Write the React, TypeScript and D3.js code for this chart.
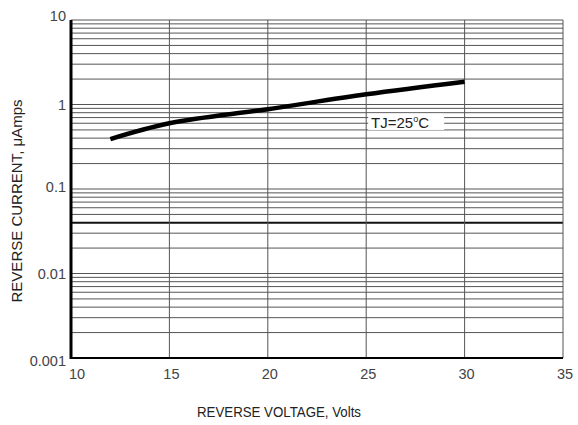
import * as d3 from "d3";

// chart data
const voltage = [12, 15, 20, 25, 30];
const current = [0.39, 0.6, 0.88, 1.32, 1.86];

const xTicks = [10, 15, 20, 25, 30, 35];
const yTicks = [10, 1, 0.1, 0.01, 0.001];
const yTickLabels = ["10", "1", "0.1", "0.01", "0.001"];

const W = 578;
const H = 425;
const margin = { top: 20, right: 15, bottom: 67, left: 71 };
const font = "'Liberation Sans', Arial, sans-serif";

export default function App() {
  const x = d3.scaleLinear().domain([10, 35]).range([margin.left, W - margin.right]);
  const y = d3.scaleLog().domain([0.001, 10]).range([H - margin.bottom, margin.top]);

  // minor log gridlines 1..9 per decade
  const grid: number[] = [];
  [0.001, 0.01, 0.1, 1].forEach((d) => {
    for (let k = 1; k < 10; k++) grid.push(d * k);
  });
  grid.push(10);

  const line = d3
    .line<number>()
    .x((_, i) => x(voltage[i]))
    .y((d) => y(d))
    .curve(d3.curveCatmullRom.alpha(0.5));

  const x0 = x(10);
  const x1 = x(35);
  const y0 = y(0.001);
  const y1 = y(10);

  return (
    <svg
      width={W}
      height={H}
      style={{ position: "absolute", left: 0, top: 0, background: "#fff" }}
      fontFamily={font}
    >
      <rect width={W} height={H} fill="#fff" />
      {/* horizontal grid */}
      {grid.map((g, i) => (
        <line
          key={"h" + i}
          x1={x0}
          x2={x1}
          y1={y(g)}
          y2={y(g)}
          stroke={Math.abs(g - 0.04) < 1e-9 ? "#111" : "#555"}
          strokeWidth={Math.abs(g - 0.04) < 1e-9 ? 2 : 1}
        />
      ))}
      {/* vertical grid */}
      {xTicks.slice(1).map((t) => (
        <line key={"v" + t} x1={x(t)} x2={x(t)} y1={y1} y2={y0} stroke="#555" strokeWidth={1} />
      ))}
      {/* annotation box */}
      <rect x={x(25.1)} y={y(0.78)} width={76} height={y(0.5) - y(0.78)} fill="#fff" />
      <text x={x(25.25)} y={y(0.52)} fontSize={15} fill="#222">
        TJ=25
        <tspan fontSize={9} dy={-6}>o</tspan>
        <tspan dy={6}>C</tspan>
      </text>
      {/* curve */}
      <path d={line(current) || ""} fill="none" stroke="#000" strokeWidth={4.5} />
      {/* axes */}
      <line x1={x0} x2={x0} y1={y1} y2={y0 + 1} stroke="#000" strokeWidth={3} />
      <line x1={x0} x2={x1} y1={y0} y2={y0} stroke="#000" strokeWidth={2} />
      {/* y tick labels */}
      {yTicks.map((t, i) => (
        <text
          key={"yl" + t}
          x={66}
          y={y(t)}
          dy={i === 0 ? -4 : i === yTicks.length - 1 ? 3 : i === 2 ? -2 : 0}
          textAnchor="end"
          dominantBaseline="central"
          fontSize={14.5}
          fill="#444"
        >
          {yTickLabels[i]}
        </text>
      ))}
      {/* x tick labels */}
      {xTicks.map((t, i) => (
        <text
          key={"xl" + t}
          x={x(t) + (i === 0 ? 6 : 2)}
          y={y0 + 16}
          dominantBaseline="central"
          textAnchor="middle"
          fontSize={14.5}
          fill="#444"
        >
          {t}
        </text>
      ))}
      {/* axis titles */}
      <text
        x={279}
        y={417}
        textAnchor="middle"
        fontSize={15}
        fill="#222"
        textLength={164}
        lengthAdjust="spacingAndGlyphs"
      >
        REVERSE VOLTAGE, Volts
      </text>
      <text
        transform={`translate(22,${201}) rotate(-90)`}
        textAnchor="middle"
        fontSize={15}
        fill="#222"
        textLength={203}
        lengthAdjust="spacingAndGlyphs"
      >
        REVERSE CURRENT, μAmps
      </text>
    </svg>
  );
}
